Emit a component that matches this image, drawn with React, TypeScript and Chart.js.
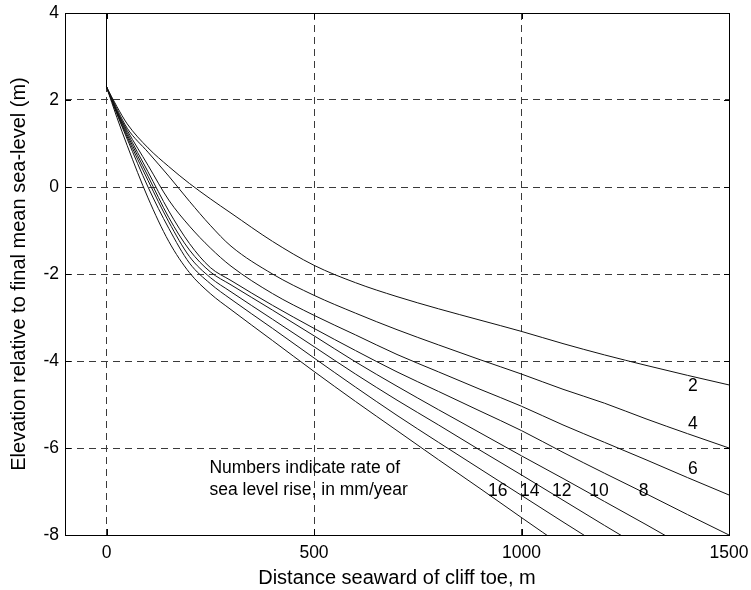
import React, { useEffect, useRef } from 'react';
import { Chart, registerables } from 'chart.js';

Chart.register(...registerables);

// Distance seaward of cliff toe (m)
const distances = [0, 25, 50, 100, 150, 200, 250, 300, 400, 500, 600, 700, 800, 900, 1000, 1100, 1200, 1300, 1400, 1500];

// Elevation (m) for each rate of sea level rise (mm/year)
const rate2 = [2.3, 1.85, 1.45, 0.9, 0.47, 0.08, -0.27, -0.6, -1.25, -1.8, -2.2, -2.52, -2.8, -3.06, -3.32, -3.6, -3.86, -4.1, -4.33, -4.55];
const rate4 = [2.3, 1.8, 1.35, 0.8, 0.25, -0.33, -0.88, -1.36, -2.0, -2.49, -2.9, -3.28, -3.63, -3.97, -4.3, -4.65, -4.97, -5.33, -5.67, -6.0];
const rate6 = [2.3, 1.75, 1.3, 0.5, -0.3, -0.9, -1.4, -1.82, -2.45, -2.95, -3.4, -3.85, -4.25, -4.65, -5.04, -5.47, -5.87, -6.27, -6.68, -7.08];
const rate8 = [2.3, 1.75, 1.25, 0.35, -0.55, -1.3, -1.85, -2.15, -2.72, -3.25, -3.76, -4.25, -4.7, -5.15, -5.6, -6.1, -6.58, -7.05, -7.53, -8.0];
const rate10 = [2.3, 1.72, 1.2, 0.25, -0.7, -1.45, -1.95, -2.25, -2.83, -3.42, -4.02, -4.58, -5.12, -5.65, -6.18, -6.7, -7.23, -7.76, -8.3, -8.82];
const rate12 = [2.3, 1.7, 1.15, 0.15, -0.8, -1.6, -2.08, -2.41, -3.04, -3.67, -4.3, -4.9, -5.47, -6.05, -6.62, -7.2, -7.78, -8.35, -8.92, -9.5];
const rate14 = [2.3, 1.68, 1.1, 0.0, -0.95, -1.75, -2.22, -2.58, -3.25, -3.93, -4.6, -5.25, -5.87, -6.48, -7.09, -7.7, -8.3, -8.9, -9.5, -10.1];
const rate16 = [2.3, 1.6, 0.95, -0.25, -1.25, -1.97, -2.45, -2.82, -3.53, -4.24, -4.93, -5.6, -6.27, -6.93, -7.6, -8.26, -8.9, -9.55, -10.2, -10.85];

const rates = [2, 4, 6, 8, 10, 12, 14, 16];

// Cliff face
const cliffX = [0, 0];
const cliffY = [4, 2.3];

// Axes
const xMin = -100;
const xMax = 1500;
const yMin = -8;
const yMax = 4;
const xTicks = [0, 500, 1000, 1500];
const yTicks = [-8, -6, -4, -2, 0, 2, 4];

// Curve labels
const curveLabels = ['2', '4', '6', '8', '10', '12', '14', '16'];
const curveLabelX = [1413, 1413, 1413, 1294, 1187, 1097, 1020, 943];
const curveLabelY = [-4.57, -5.45, -6.48, -7.0, -7.0, -7.0, -7.0, -7.0];

// Note text
const noteLines = ['Numbers indicate rate of', 'sea level rise, in mm/year'];
const noteX = 248;
const noteY = [-6.46, -6.96];

const FONT = "'Liberation Sans', Arial, Helvetica, sans-serif";
const TICK_SIZE = 17.5;
const TITLE_SIZE = 20;
const GRID_COLOR = '#3a3a3a';

export default function App() {
  const ref = useRef<HTMLCanvasElement>(null);

  useEffect(() => {
    const canvas = ref.current;
    if (!canvas) return;
    const series = [rate2, rate4, rate6, rate8, rate10, rate12, rate14, rate16];

    const datasets: any[] = [
      {
        label: 'cliff',
        data: cliffX.map((x, i) => ({ x, y: cliffY[i] })),
        borderColor: '#000',
        borderWidth: 1,
        pointRadius: 0,
        showLine: true,
        fill: false,
      },
      ...series.map((s, k) => ({
        label: `${rates[k]} mm/year`,
        data: distances.map((x, i) => ({ x, y: s[i] })),
        borderColor: '#111',
        borderWidth: 1,
        pointRadius: 0,
        showLine: true,
        fill: false,
        cubicInterpolationMode: 'monotone',
      })),
    ];

    const framePlugin = {
      id: 'frame',
      afterDraw(chart: any) {
        const { ctx, chartArea } = chart;
        const xs = chart.scales.x;
        const ys = chart.scales.y;
        const L = Math.round(chartArea.left);
        const R = Math.round(chartArea.right);
        const T = Math.round(chartArea.top);
        const B = Math.round(chartArea.bottom);
        ctx.save();
        ctx.setLineDash([]);
        ctx.fillStyle = '#000';
        // solid box
        ctx.fillRect(L, T, R - L + 1, 1);
        ctx.fillRect(L, B, R - L + 1, 1);
        ctx.fillRect(L, T, 1, B - T + 1);
        ctx.fillRect(R, T, 1, B - T + 1);
        // inward ticks
        const tl = 6;
        xTicks.forEach((v) => {
          const px = Math.round(xs.getPixelForValue(v));
          ctx.fillRect(px, B - tl, 1, tl);
          ctx.fillRect(px, T, 1, tl);
        });
        yTicks.forEach((v) => {
          const py = Math.round(ys.getPixelForValue(v));
          ctx.fillRect(L, py, tl, 1);
          ctx.fillRect(R - tl + 1, py, tl, 1);
        });

        ctx.font = `${TICK_SIZE}px ${FONT}`;
        ctx.textAlign = 'center';
        ctx.textBaseline = 'middle';
        curveLabels.forEach((t, i) => {
          ctx.fillText(t, xs.getPixelForValue(curveLabelX[i]), ys.getPixelForValue(curveLabelY[i]));
        });
        ctx.textAlign = 'left';
        noteLines.forEach((t, i) => {
          ctx.fillText(t, xs.getPixelForValue(noteX), ys.getPixelForValue(noteY[i]));
        });
        ctx.restore();
      },
    };

    const chart = new Chart(canvas, {
      type: 'scatter',
      data: { datasets },
      options: {
        animation: false,
        responsive: false,
        devicePixelRatio: 1,
        layout: { padding: { top: 13, right: 22, left: 0, bottom: 0 } },
        plugins: {
          legend: { display: false },
          tooltip: { enabled: false },
        },
        scales: {
          x: {
            type: 'linear',
            min: xMin,
            max: xMax,
            afterBuildTicks: (s: any) => {
              s.ticks = xTicks.map((v) => ({ value: v }));
            },
            afterFit: (s: any) => {
              s.height = 55;
              s.paddingLeft = 0;
              s.paddingRight = 0;
            },
            grid: { color: GRID_COLOR, lineWidth: 1, drawTicks: false },
            border: { display: false, dash: [7, 5] },
            ticks: {
              color: '#000',
              font: { family: FONT, size: TICK_SIZE },
              padding: 8,
              maxRotation: 0,
              autoSkip: false,
              callback: (v: any) => String(v),
            },
            title: {
              display: true,
              text: 'Distance seaward of cliff toe, m',
              color: '#000',
              font: { family: FONT, size: TITLE_SIZE },
              padding: { top: 0, bottom: 0 },
            },
          },
          y: {
            type: 'linear',
            min: yMin,
            max: yMax,
            afterBuildTicks: (s: any) => {
              s.ticks = yTicks.map((v) => ({ value: v }));
            },
            afterFit: (s: any) => {
              s.width = 65;
              s.paddingTop = 0;
              s.paddingBottom = 0;
            },
            grid: { color: GRID_COLOR, lineWidth: 1, drawTicks: false },
            border: { display: false, dash: [7, 5] },
            ticks: {
              color: '#000',
              font: { family: FONT, size: TICK_SIZE },
              padding: 6,
              autoSkip: false,
              callback: (v: any) => String(v),
            },
            title: {
              display: true,
              text: 'Elevation relative to final mean sea-level (m)',
              color: '#000',
              font: { family: FONT, size: TITLE_SIZE },
              padding: { top: 7, bottom: 0 },
            },
          },
        },
      },
      plugins: [framePlugin],
    } as any);

    return () => {
      chart.destroy();
    };
  }, []);

  return (
    <div style={{ position: 'fixed', left: 0, top: 0, width: 751, height: 590, background: '#fff' }}>
      <canvas ref={ref} width={751} height={590} style={{ display: 'block', width: 751, height: 590 }} />
    </div>
  );
}
